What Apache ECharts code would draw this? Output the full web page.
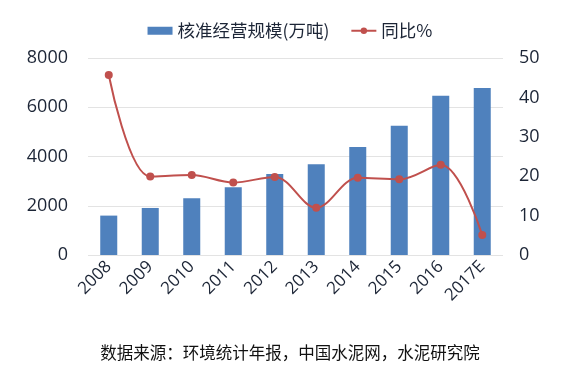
<!DOCTYPE html>
<html><head><meta charset="utf-8">
<script src="https://cdn.jsdelivr.net/npm/echarts@6/dist/echarts.min.js"></script>
<style>html,body{margin:0;padding:0;background:#fff}#c{width:580px;height:392px}</style>
</head><body><div id="c"></div>
<script>
const categories = ['2008','2009','2010','2011','2012','2013','2014','2015','2016','2017E'];
const scaleValues = [1600, 1910, 2305, 2750, 3290, 3690, 4390, 5245, 6465, 6780];
const yoyValues = [45.7, 19.9, 20.3, 18.4, 19.8, 12.0, 19.6, 19.2, 22.9, 5.1];
const leftTicks = [0, 2000, 4000, 6000, 8000];
const rightTicks = [0, 10, 20, 30, 40, 50];
const sourceText = '数据来源：环境统计年报，中国水泥网，水泥研究院';

const chart = echarts.init(document.getElementById('c'));
const labelColor = '#1c2536';
chart.setOption({
  animation: false,
  textStyle: {fontFamily: '"Open Sans","Noto Sans CJK SC",sans-serif'},
  legend: {
    top: 17, left: 'center', itemGap: 21,
    textStyle: {fontSize: 17.5, color: '#1c2536', fontFamily: '"Noto Sans CJK SC",sans-serif'},
    data: [
      {name: '核准经营规模(万吨)', icon: 'rect', itemStyle: {color: '#4f81bd'}},
      {name: '同比%'}
    ],
    itemWidth: 25, itemHeight: 8
  },
  graphic: [{
    type: 'text', left: 'center', top: 344,
    style: {text: sourceText, fontSize: 16.5, fill: '#111', fontFamily: '"Noto Sans CJK SC",sans-serif'}
  }],
  grid: {left: 88, right: 77, top: 58, bottom: 137},
  xAxis: {
    type: 'category', data: categories,
    axisLine: {show: false}, axisTick: {show: false},
    axisLabel: {rotate: 45, fontSize: 17, color: labelColor, margin: 9, interval: 0}
  },
  yAxis: [{
    type: 'value', min: leftTicks[0], max: leftTicks[leftTicks.length-1], interval: 2000,
    axisLine: {show: false}, axisTick: {show: false},
    axisLabel: {fontSize: 18, color: labelColor, margin: 20, formatter: v => String(v)},
    splitLine: {lineStyle: {color: '#e3e3e3', width: 1}}
  }, {
    type: 'value', min: rightTicks[0], max: rightTicks[rightTicks.length-1], interval: 10,
    axisLine: {show: false}, axisTick: {show: false},
    axisLabel: {fontSize: 18, color: labelColor, margin: 16},
    splitLine: {show: false}
  }],
  series: [{
    name: '核准经营规模(万吨)', type: 'bar', data: scaleValues, barWidth: '41%',
    itemStyle: {color: '#4f81bd'}
  }, {
    name: '同比%', type: 'line', yAxisIndex: 1, data: yoyValues, smooth: 0.35,
    symbol: 'circle', symbolSize: 8,
    lineStyle: {color: '#c0504d', width: 2},
    itemStyle: {color: '#c0504d'}
  }]
});
</script></body></html>
